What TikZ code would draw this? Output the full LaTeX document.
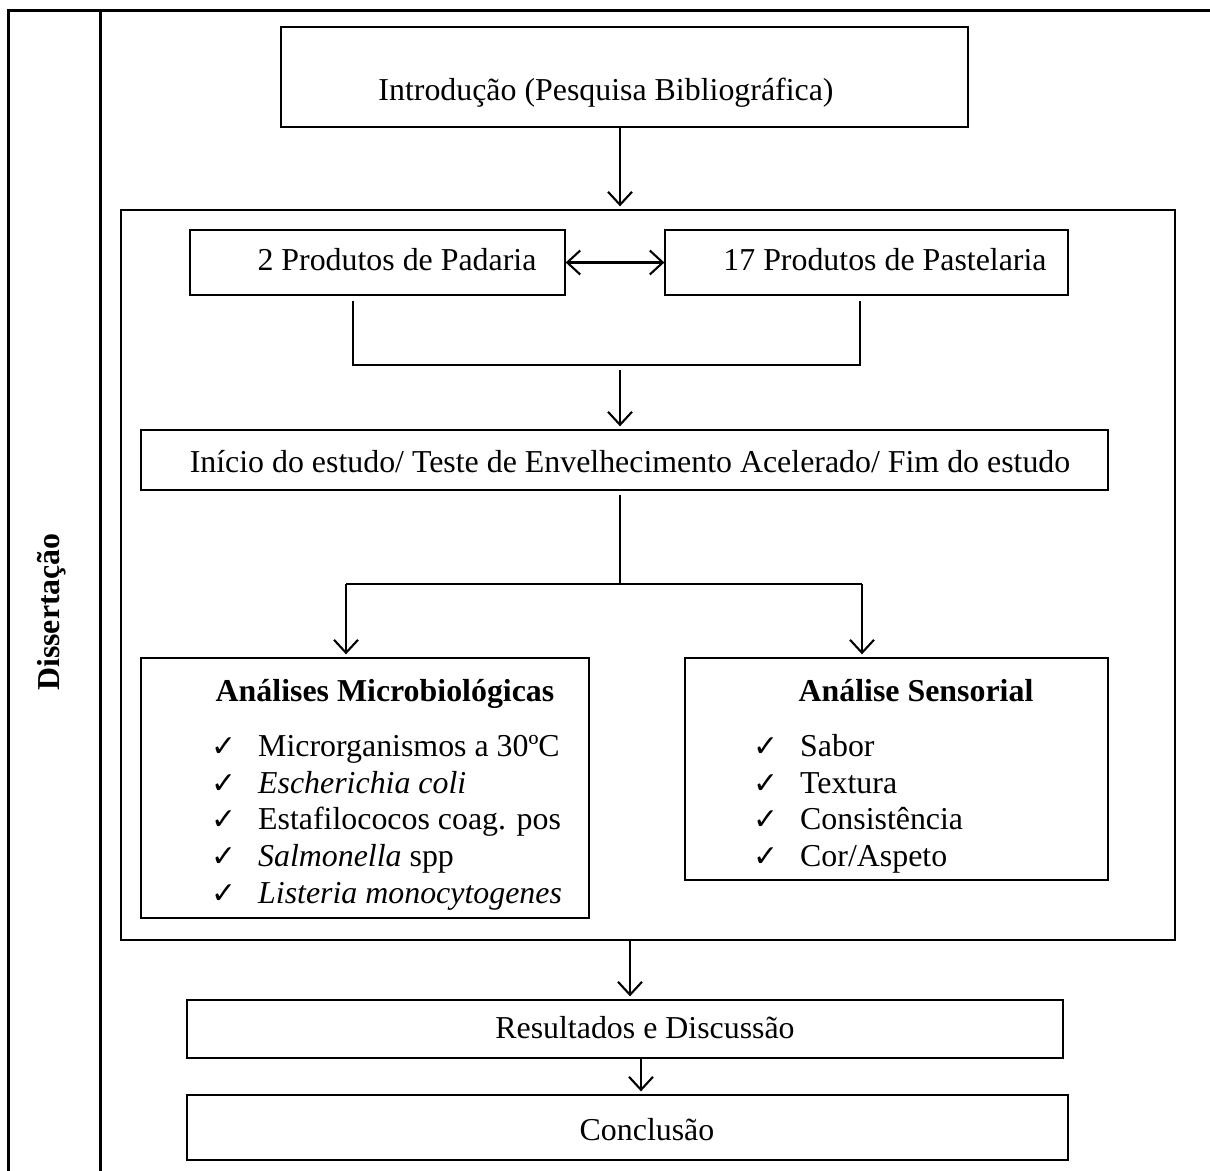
\documentclass[tikz,border=0pt]{standalone}
\usepackage{fontspec}
\setmainfont{Liberation Serif}
\newfontfamily\symfont{DejaVu Sans}
\usetikzlibrary{arrows.meta}
\begin{document}
\begin{tikzpicture}[x=1bp,y=-1bp,
  box/.style={draw=black,line width=1.3bp,rectangle,inner sep=0pt},
  txt/.style={anchor=base,inner sep=0pt,font=\fontsize{32}{37}\selectfont},
  item/.style={anchor=base west,inner sep=0pt,font=\fontsize{32}{37}\selectfont},
  chk/.style={anchor=base west,inner sep=0pt,font=\symfont\fontsize{30}{34}\selectfont},
  arr/.style={line width=2.1bp,shorten >=3bp,-{Straight Barb[length=13bp,width=24bp]}},
  dbl/.style={line width=2.1bp,{Straight Barb[length=13bp,width=24bp]}-{Straight Barb[length=13bp,width=24bp]}},
  conn/.style={line width=2.1bp},
  frame/.style={line width=3bp}]
\useasboundingbox (0,0) rectangle (1210,1171);

% outer table
\draw[frame] (8,1171) -- (8,10) -- (1210,10);
\draw[frame] (100,10) -- (100,1171);
\node[rotate=90,inner sep=0pt,font=\bfseries\fontsize{32}{37}\selectfont] (diss) at (52,612) {Dissertação};

% boxes
\node[box,minimum width=687bp,minimum height=100bp] (intro) at (624.5,77) {};
\node[txt] (introt) at (606,100) {Introdução (Pesquisa Bibliográfica)};

\node[box,minimum width=1054bp,minimum height=730bp] (cont) at (648,575) {};

\node[box,minimum width=375bp,minimum height=65bp] (pad) at (377.5,262.5) {};
\node[txt] (padt) at (397,270) {2 Produtos de Padaria};
\node[box,minimum width=403bp,minimum height=65bp] (pas) at (866.5,262.5) {};
\node[txt] (past) at (885,270) {17 Produtos de Pastelaria};

\node[box,minimum width=967bp,minimum height=60bp] (ini) at (624.5,460) {};
\node[txt] (init) at (630,472) {Início do estudo/ Teste de Envelhecimento Acelerado/ Fim do estudo};

\node[box,minimum width=448bp,minimum height=260bp] (micro) at (365,788) {};
\node[txt,font=\bfseries\fontsize{32}{37}\selectfont] (microt) at (385,701) {Análises Microbiológicas};
\node[chk] (c1) at (211,756) {✓};
\node[item] (m1) at (258,756) {Microrganismos a 30ºC};
\node[chk] (c2) at (211,793) {✓};
\node[item] (m2) at (258,793) {\itshape Escherichia coli};
\node[chk] (c3) at (211,829) {✓};
\node[item] (m3) at (258,829) {Estafilococos coag. pos};
\node[chk] (c4) at (211,866) {✓};
\node[item] (m4) at (258,866) {\textit{Salmonella} spp};
\node[chk] (c5) at (211,903) {✓};
\node[item] (m5) at (258,903) {\itshape Listeria monocytogenes};

\node[box,minimum width=423bp,minimum height=222bp] (sens) at (896.5,769) {};
\node[txt,font=\bfseries\fontsize{32}{37}\selectfont] (senst) at (916,701) {Análise Sensorial};
\node[chk] (s1c) at (753,756) {✓};
\node[item] (s1) at (800,756) {Sabor};
\node[chk] (s2c) at (753,793) {✓};
\node[item] (s2) at (800,793) {Textura};
\node[chk] (s3c) at (753,829) {✓};
\node[item] (s3) at (800,829) {Consistência};
\node[chk] (s4c) at (753,866) {✓};
\node[item] (s4) at (800,866) {Cor/Aspeto};

\node[box,minimum width=876bp,minimum height=58bp] (res) at (625,1029) {};
\node[txt] (rest) at (645,1038) {Resultados e Discussão};
\node[box,minimum width=881bp,minimum height=65bp] (conc) at (627.5,1127.5) {};
\node[txt] (conct) at (647,1140) {Conclusão};

% connector coordinates
\coordinate (xa) at (620,0);
\coordinate (xl) at (353,0);
\coordinate (xr) at (860,0);
\coordinate (bl) at (353,365);
\coordinate (br) at (860,365);
\coordinate (bm) at (620,365);
\coordinate (sp0) at (620,495);
\coordinate (sp) at (620,584);
\coordinate (spl) at (346,584);
\coordinate (spr) at (862,584);
\coordinate (xres) at (630,0);
\coordinate (xconc) at (641,0);

% connectors
\draw[arr] (intro.south -| xa) -- (cont.north -| xa);
\draw[dbl] (pad.east) -- (pas.west);
\draw[conn] ([yshift=-5bp]pad.south -| xl) -- (bl) -- (br) -- ([yshift=-5bp]pas.south -| xr);
\draw[arr] ([yshift=-5bp]bm) -- (ini.north -| xa);
\draw[conn] (sp0) -- (sp);
\draw[conn] (spl) -- (spr);
\draw[arr] (spl) -- (micro.north -| spl);
\draw[arr] (spr) -- (sens.north -| spr);
\draw[arr] (cont.south -| xres) -- (res.north -| xres);
\draw[arr] (res.south -| xconc) -- (conc.north -| xconc);
\end{tikzpicture}
\end{document}
